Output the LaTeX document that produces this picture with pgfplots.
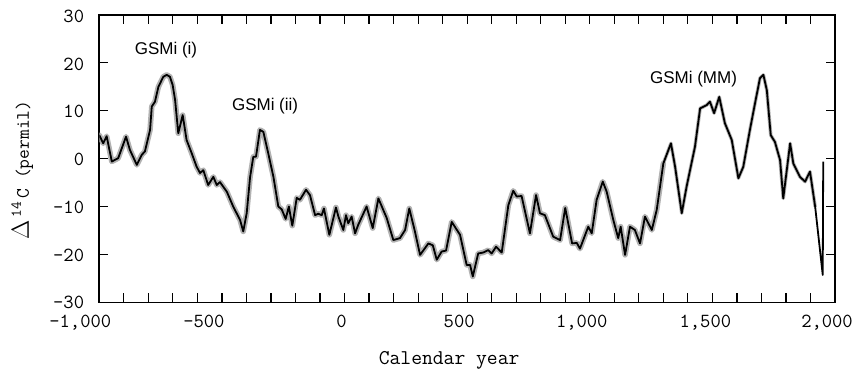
\documentclass[border=0pt]{standalone}
\usepackage{fontspec}
\usepackage{pgfplots}
\pgfplotsset{compat=1.18}
\usepackage{pgfplotstable}
\newfontfamily\annfont{Liberation Sans}

\pgfplotstableread{
x y
-1000 4.9
-984 3.2
-970 4.7
-949 -0.6
-923 0.1
-891 4.6
-875 1.8
-847 -1.3
-827 0.8
-814 1.5
-793 6.0
-786 10.9
-773 11.9
-759 15.0
-739 17.1
-725 17.5
-712 17.1
-701 15.4
-691 12.3
-678 5.3
-660 9.1
-644 3.9
-623 1.1
-603 -1.7
-589 -3.0
-576 -2.4
-556 -5.5
-535 -3.8
-521 -5.5
-508 -4.9
-480 -6.9
-454 -10.0
-426 -12.8
-413 -15.2
-399 -11.4
-385 -3.8
-372 0.4
-361 0.4
-345 6.0
-331 5.6
-311 1.1
-290 -3.8
-270 -10.0
-256 -10.6
-240 -12.6
-227 -10.0
-213 -14.0
-195 -8.2
-182 -8.6
-157 -6.5
-141 -7.6
-120 -11.8
-107 -11.5
-93 -11.8
-84 -10.4
-62 -15.9
-35 -10.2
-25 -12.1
-5 -14.9
6 -11.8
15 -13.5
29 -12.1
43 -15.6
56 -13.8
90 -10.0
115 -14.5
138 -8.3
172 -12.4
199 -17.0
226 -16.6
247 -14.9
264 -10.4
287 -15.2
308 -20.1
342 -17.7
360 -18.1
376 -21.1
396 -19.4
414 -19.2
437 -13.2
471 -15.9
498 -22.2
512 -22.2
523 -24.6
545 -19.8
566 -19.6
586 -19.1
600 -19.8
618 -18.4
641 -19.6
668 -9.7
688 -6.7
702 -7.9
722 -7.8
756 -15.6
781 -7.6
797 -11.4
817 -11.8
851 -16.3
879 -17.0
900 -10.3
928 -17.7
947 -17.6
960 -18.8
994 -14.2
1008 -15.6
1028 -8.6
1053 -4.8
1069 -6.9
1096 -12.8
1116 -16.6
1126 -14.2
1144 -20.1
1164 -14.2
1184 -14.9
1205 -17.7
1225 -12.1
1253 -14.9
1273 -10.7
1300 -1.0
1331 3.2
1348 -1.7
1375 -11.4
1395 -5.8
1429 2.5
1450 10.5
1477 11.2
1490 11.9
1507 9.5
1528 12.9
1551 7.4
1579 3.9
1606 -4.1
1626 -1.7
1653 6.0
1674 11.6
1694 16.8
1708 17.5
1722 14.3
1738 4.9
1755 3.5
1776 -0.3
1789 -8.3
1817 3.2
1830 -1.0
1857 -3.8
1878 -4.8
1898 -2.7
1919 -10.0
1950 -24.3
1952 -0.6
}\dataA

\begin{document}
\begin{tikzpicture}
\begin{axis}[
  at={(0,0)}, anchor=south west,
  scale only axis, width=735.7pt, height=287.3pt,
  xmin=-1000, xmax=2000, ymin=-30, ymax=30,
  axis line style={line width=1.6pt},
  xtick={-1000,-500,...,2000},
  minor xtick={-900,-800,...,1900},
  xticklabels={{\hspace*{-38pt}-1,000},{\hspace*{-36pt}-500},{\hspace*{-6pt}0},{\hspace*{-16pt}500},{\hspace*{-16pt}1,000},{\hspace*{-14pt}1,500},{\hspace*{-16pt}2,000}},
  ytick={-30,-20,...,30},
  yticklabels={{\raisebox{3pt}{-30}},-20,-10,0,10,20,30},
  tick style={line width=1.2pt, black},
  major tick length=9pt, minor tick length=9pt,
  tick align=inside,
  ticklabel style={font=\ttfamily\fontsize{20}{20}\selectfont, inner sep=0pt},
  xticklabel style={yshift=-13pt},
  yticklabel style={xshift=-15pt, yshift=-1pt},
  xlabel={Calendar year},
  ylabel={{\fontsize{32}{32}\selectfont$\Delta$}\,\raisebox{1.0ex}{\fontsize{15}{15}\selectfont 14}\,C (permil)},
  every axis x label/.style={at={(axis description cs:0.4755,-0.215)}, anchor=base, font=\ttfamily\fontsize{21}{21}\selectfont},
  every axis y label/.style={at={(axis description cs:-0.1047,0.4605)}, anchor=center, rotate=90, font=\ttfamily\fontsize{19}{19}\selectfont},
  clip=true,
]
\addplot[black!30, line width=5.5pt, line join=round, line cap=round, restrict x to domain=-1000:1300] table[x=x,y=y] {\dataA};
\addplot[black!30, line width=3.5pt, line join=round, line cap=round, restrict x to domain=1300:1948] table[x=x,y=y] {\dataA};
\addplot[black, line width=1.8pt, line join=round] table[x=x,y=y] {\dataA};
\node[font=\annfont\fontsize{17}{17}\selectfont] at (axis cs:-728,22.7) {GSMi (i)};
\node[font=\annfont\fontsize{17}{17}\selectfont] at (axis cs:-324,10.9) {GSMi (ii)};
\node[font=\annfont\fontsize{17}{17}\selectfont] at (axis cs:1423,16.6) {GSMi (MM)};
\end{axis}
\pgfresetboundingbox
\path[use as bounding box] (-99.3pt,-65.7pt) rectangle (755.7pt,302.3pt);
\end{tikzpicture}
\end{document}
